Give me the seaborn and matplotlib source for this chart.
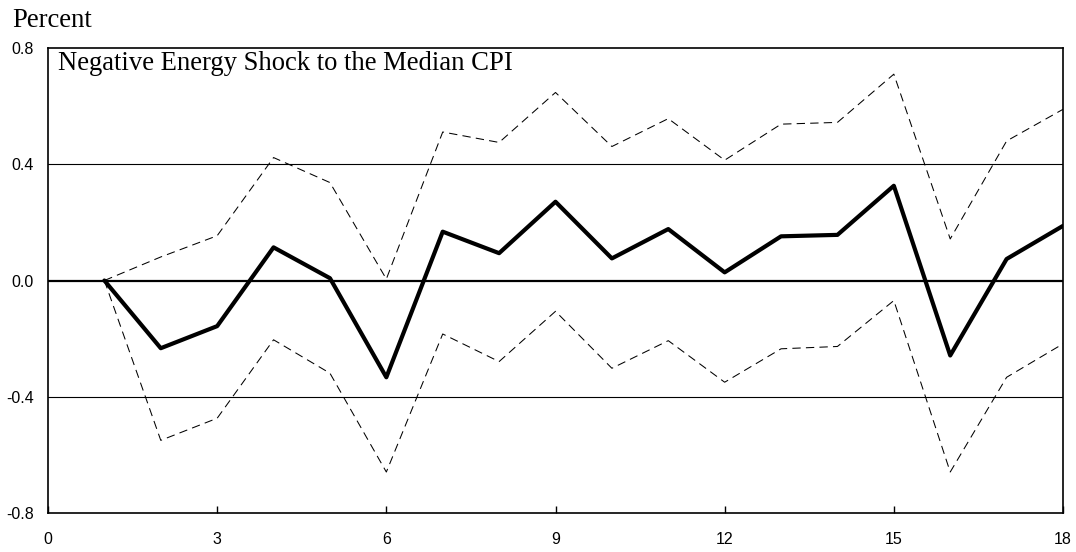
import numpy as np
import pandas as pd
import seaborn as sns
import matplotlib.pyplot as plt

# 数据：脉冲响应及上下置信带
horizon = list(range(1, 19))
response = [0.0, -0.233, -0.157, 0.114, 0.008, -0.333, 0.168, 0.094, 0.271,
            0.076, 0.177, 0.028, 0.152, 0.157, 0.326, -0.258, 0.074, 0.188]
upper_band = [0.0, 0.081, 0.154, 0.423, 0.337, 0.005, 0.511, 0.475, 0.647,
              0.461, 0.557, 0.414, 0.538, 0.544, 0.710, 0.143, 0.480, 0.589]
lower_band = [0.0, -0.550, -0.474, -0.204, -0.319, -0.659, -0.184, -0.279, -0.106,
              -0.302, -0.207, -0.350, -0.235, -0.227, -0.069, -0.659, -0.333, -0.218]

x_ticks = [0, 3, 6, 9, 12, 15, 18]
y_ticks = [-0.8, -0.4, 0.0, 0.4, 0.8]
y_ticklabels = ['-0.8', '-0.4', '0.0', '0.4', '0.8']
title_text = 'Negative Energy Shock to the Median CPI'
unit_text = 'Percent'

df = pd.DataFrame({'h': horizon, 'resp': response, 'hi': upper_band, 'lo': lower_band})

sns.set_theme(style='white')
plt.rcParams['font.family'] = ['Liberation Sans', 'DejaVu Sans']

fig = plt.figure(figsize=(10.76, 5.52), dpi=100)
ax = fig.add_axes([48 / 1076, 1 - 513 / 552, (1063 - 48) / 1076, (513 - 48) / 552])

# 网格线（仅水平）
for yv in [0.4, -0.4]:
    ax.axhline(yv, color='black', lw=0.8, zorder=1)
ax.axhline(0.0, color='black', lw=1.6, zorder=2)

# 置信带（虚线）和中心响应（粗实线）
sns.lineplot(data=df, x='h', y='hi', ax=ax, color='black', lw=0.75,
             zorder=3).lines[-1].set_dashes((8, 5))
sns.lineplot(data=df, x='h', y='lo', ax=ax, color='black', lw=0.75,
             zorder=3).lines[-1].set_dashes((8, 5))
sns.lineplot(data=df, x='h', y='resp', ax=ax, color='black', lw=3.0, zorder=4)

ax.set_xlim(0, 18)
ax.set_ylim(-0.8, 0.8)
ax.set_xticks(x_ticks)
ax.set_xticklabels([str(t) for t in x_ticks])
ax.set_yticks(y_ticks)
ax.set_yticklabels(y_ticklabels)
ax.set_xlabel('')
ax.set_ylabel('')
ax.tick_params(axis='x', direction='in', length=5, width=1, pad=14,
               labelsize=11.5, colors='black', bottom=True)
ax.tick_params(axis='y', direction='in', length=0, pad=10,
               labelsize=11.5, colors='black', left=True)

for sp in ax.spines.values():
    sp.set_visible(True)
    sp.set_color('black')
    sp.set_linewidth(1.2)

ax.text(0.0095, 0.993, title_text, transform=ax.transAxes, ha='left', va='top',
        fontsize=19.2, family=['Liberation Serif', 'DejaVu Serif'], color='black')
fig.text(12 / 1076, 1 - 8 / 552, unit_text, ha='left', va='top',
         fontsize=19.2, family=['Liberation Serif', 'DejaVu Serif'], color='black')

fig.savefig('out.png', dpi=100)
